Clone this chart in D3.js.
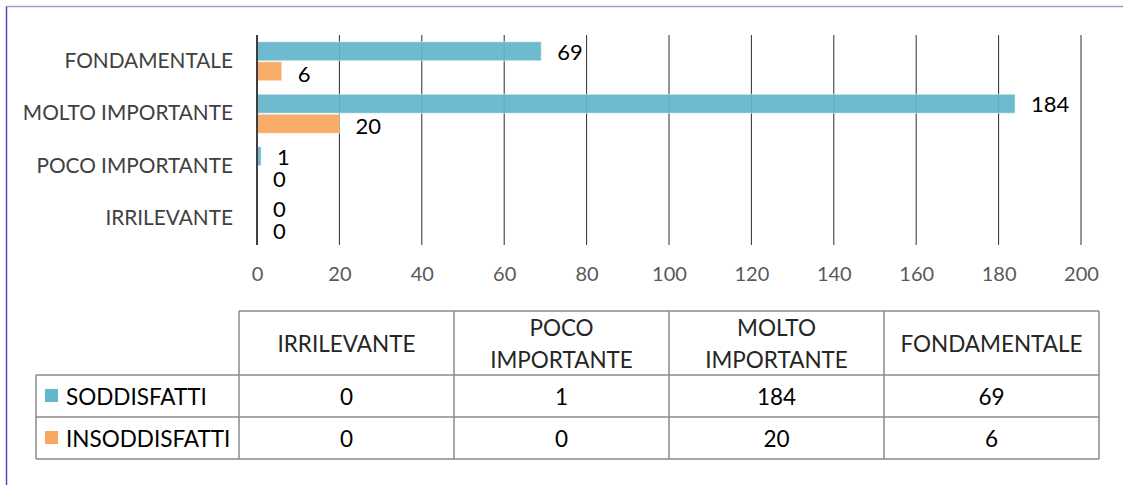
<!DOCTYPE html>
<html>
<head>
<meta charset="utf-8">
<script src="https://cdn.jsdelivr.net/npm/d3@7"></script>
<style>
  html, body { margin: 0; padding: 0; background: #fff; }
  svg { display: block; font-family: Lato, "Open Sans", sans-serif; }
</style>
</head>
<body>
<svg id="chart" width="1123" height="485"></svg>
<script>
// Importance categories, listed in table order (bottom-to-top in the bars)
const categories = ["IRRILEVANTE", "POCO IMPORTANTE", "MOLTO IMPORTANTE", "FONDAMENTALE"];
const headerLines = [["IRRILEVANTE"], ["POCO", "IMPORTANTE"], ["MOLTO", "IMPORTANTE"], ["FONDAMENTALE"]];
const seriesNames = ["SODDISFATTI", "INSODDISFATTI"];
const soddisfatti = [0, 1, 184, 69];
const insoddisfatti = [0, 0, 20, 6];
const xTicks = [0, 20, 40, 60, 80, 100, 120, 140, 160, 180, 200];
const seriesColors = ["#63b6cc", "#f9a65e"];

const svg = d3.select("#chart");
const seriesValues = [soddisfatti, insoddisfatti];

// outer frame
svg.append("line").attr("x1", 6.5).attr("x2", 1123).attr("y1", 6.5).attr("y2", 6.5)
  .attr("stroke", "#9c9cdc").attr("stroke-width", 1.5);
svg.append("line").attr("x1", 6.5).attr("x2", 6.5).attr("y1", 6.5).attr("y2", 485)
  .attr("stroke", "#4b4bbf").attr("stroke-width", 1.5);

// scales
const x = d3.scaleLinear().domain([0, 200]).range([257, 1081]);
const y0 = d3.scaleBand().domain(categories.slice().reverse()).range([35, 245])
  .paddingInner(0.257).paddingOuter(0.1285);
const y1 = d3.scaleBand().domain(seriesNames).range([0, y0.bandwidth()]).paddingInner(0.05);

// gridlines
svg.append("g").selectAll("line").data(xTicks.slice(1)).join("line")
  .attr("x1", d => x(d)).attr("x2", d => x(d))
  .attr("y1", 35).attr("y2", 245)
  .attr("stroke", "#2e2e2e").attr("stroke-width", 1);

// bars
const groups = svg.append("g").selectAll("g").data(categories).join("g")
  .attr("transform", c => `translate(0,${y0(c)})`);
groups.selectAll("rect")
  .data((c, i) => seriesNames.map((s, k) => ({ s, k, v: seriesValues[k][i] })))
  .join("rect")
  .attr("x", x(0))
  .attr("y", d => y1(d.s))
  .attr("width", d => x(d.v) - x(0))
  .attr("height", y1.bandwidth())
  .attr("fill", d => seriesColors[d.k])
  .attr("fill-opacity", 0.93)
  .attr("stroke", d => d.v > 0 ? "#ffffff" : "none")
  .attr("stroke-opacity", 0.5)
  .attr("stroke-width", 1);

// value labels
groups.selectAll("text")
  .data((c, i) => seriesNames.map((s, k) => ({ s, k, v: seriesValues[k][i] })))
  .join("text")
  .attr("x", d => x(d.v) + 16)
  .attr("y", d => y1(d.s) + y1.bandwidth() / 2 + (d.k === 1 ? 2 : 0))
  .attr("dominant-baseline", "central")
  .attr("font-size", 22)
  .attr("fill", "#000")
  .text(d => d.v);

// vertical axis line
svg.append("line").attr("x1", x(0)).attr("x2", x(0)).attr("y1", 35).attr("y2", 245)
  .attr("stroke", "#404040").attr("stroke-width", 2);

// category labels
const yAxis = svg.append("g").attr("transform", "translate(257,0)")
  .call(d3.axisLeft(y0).tickSize(0).tickPadding(24));
yAxis.select(".domain").remove();
yAxis.selectAll("text").attr("font-size", 20.8).attr("fill", "#404040")
  .attr("font-family", "Lato, sans-serif");

// x tick labels
const xAxis = svg.append("g").attr("transform", "translate(0,245)")
  .call(d3.axisBottom(x).tickValues(xTicks).tickSize(0).tickPadding(22));
xAxis.select(".domain").remove();
xAxis.selectAll("text").attr("font-size", 20).attr("fill", "#595959")
  .attr("font-family", "Lato, sans-serif");

// data table
const colX = d3.scaleBand().domain(categories).range([239, 1099]);
const rowTop = 311, headerBottom = 375, rowH = 42;
const tbl = svg.append("g");
const gridStroke = "#8a8a8a";
const tableFont = 22.5;

// horizontal rules
tbl.append("line").attr("x1", colX.range()[0]).attr("x2", 1099).attr("y1", rowTop).attr("y2", rowTop)
  .attr("stroke", gridStroke).attr("stroke-width", 1.5);
[0, 1, 2].forEach(r => {
  tbl.append("line").attr("x1", 36).attr("x2", 1099)
    .attr("y1", headerBottom + r * rowH).attr("y2", headerBottom + r * rowH)
    .attr("stroke", gridStroke).attr("stroke-width", 1.5);
});
// vertical rules
tbl.append("line").attr("x1", 36).attr("x2", 36).attr("y1", headerBottom).attr("y2", headerBottom + 2 * rowH)
  .attr("stroke", gridStroke).attr("stroke-width", 1.5);
categories.forEach(c => {
  tbl.append("line").attr("x1", colX(c)).attr("x2", colX(c)).attr("y1", rowTop).attr("y2", headerBottom + 2 * rowH)
    .attr("stroke", gridStroke).attr("stroke-width", 1.5);
});
tbl.append("line").attr("x1", 1099).attr("x2", 1099).attr("y1", rowTop).attr("y2", headerBottom + 2 * rowH)
  .attr("stroke", gridStroke).attr("stroke-width", 1.5);

// header text
categories.forEach((c, i) => {
  const lines = headerLines[i];
  const cx = colX(c) + colX.bandwidth() / 2;
  const cy = (rowTop + headerBottom) / 2;
  lines.forEach((ln, j) => {
    tbl.append("text").attr("x", cx).attr("y", cy + (j - (lines.length - 1) / 2) * 32)
      .attr("text-anchor", "middle").attr("dominant-baseline", "central")
      .attr("font-size", tableFont).attr("fill", "#262626").text(ln);
  });
});

// series rows
seriesNames.forEach((s, k) => {
  const cy = headerBottom + k * rowH + rowH / 2;
  tbl.append("rect").attr("x", 45).attr("y", cy - 7).attr("width", 13).attr("height", 13)
    .attr("fill", seriesColors[k]);
  tbl.append("text").attr("x", 66).attr("y", cy).attr("dominant-baseline", "central")
    .attr("font-size", tableFont).attr("fill", "#000").text(s);
  categories.forEach((c, i) => {
    tbl.append("text").attr("x", colX(c) + colX.bandwidth() / 2).attr("y", cy)
      .attr("text-anchor", "middle").attr("dominant-baseline", "central")
      .attr("font-size", tableFont).attr("fill", "#000").text(seriesValues[k][i]);
  });
});
</script>
</body>
</html>
